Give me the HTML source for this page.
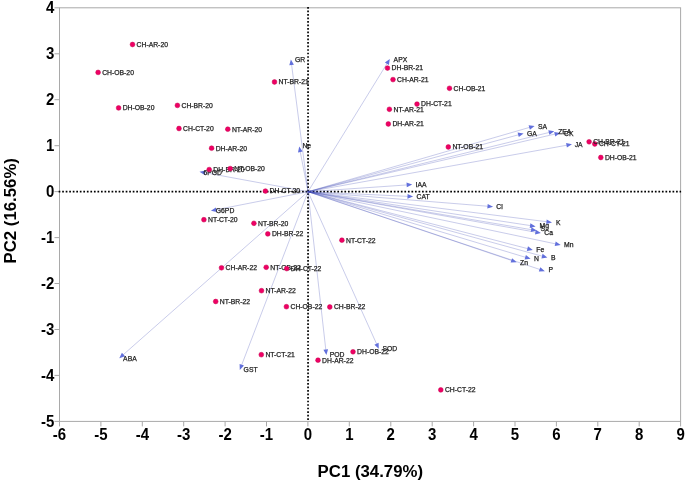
<!DOCTYPE html><html><head><meta charset="utf-8"><style>html,body{margin:0;padding:0;background:#fff;width:685px;height:482px;overflow:hidden}svg{display:block;will-change:transform;filter:blur(0.3px);font-family:"Liberation Sans",sans-serif}</style></head><body>
<svg width="685" height="482" viewBox="0 0 685 482">
<rect x="59.5" y="7.8" width="621.1" height="413.6" fill="none" stroke="#a9a9a9" stroke-width="1"/>
<path d="M59.5 421.4v5 M100.9 421.4v5 M142.3 421.4v5 M183.7 421.4v5 M225.1 421.4v5 M266.5 421.4v5 M307.9 421.4v5 M349.3 421.4v5 M390.8 421.4v5 M432.2 421.4v5 M473.6 421.4v5 M515.0 421.4v5 M556.4 421.4v5 M597.8 421.4v5 M639.2 421.4v5 M680.6 421.4v5 M59.5 421.4h-5 M59.5 375.4h-5 M59.5 329.5h-5 M59.5 283.5h-5 M59.5 237.6h-5 M59.5 191.6h-5 M59.5 145.7h-5 M59.5 99.7h-5 M59.5 53.8h-5 M59.5 7.8h-5" stroke="#a9a9a9" stroke-width="1" fill="none"/>
<g font-weight="bold" font-size="15" fill="#000">
<text transform="translate(59.50 440.2) scale(1 1.14)" text-anchor="middle">-6</text>
<text transform="translate(100.91 440.2) scale(1 1.14)" text-anchor="middle">-5</text>
<text transform="translate(142.31 440.2) scale(1 1.14)" text-anchor="middle">-4</text>
<text transform="translate(183.72 440.2) scale(1 1.14)" text-anchor="middle">-3</text>
<text transform="translate(225.13 440.2) scale(1 1.14)" text-anchor="middle">-2</text>
<text transform="translate(266.53 440.2) scale(1 1.14)" text-anchor="middle">-1</text>
<text transform="translate(307.94 440.2) scale(1 1.14)" text-anchor="middle">0</text>
<text transform="translate(349.35 440.2) scale(1 1.14)" text-anchor="middle">1</text>
<text transform="translate(390.75 440.2) scale(1 1.14)" text-anchor="middle">2</text>
<text transform="translate(432.16 440.2) scale(1 1.14)" text-anchor="middle">3</text>
<text transform="translate(473.57 440.2) scale(1 1.14)" text-anchor="middle">4</text>
<text transform="translate(514.97 440.2) scale(1 1.14)" text-anchor="middle">5</text>
<text transform="translate(556.38 440.2) scale(1 1.14)" text-anchor="middle">6</text>
<text transform="translate(597.79 440.2) scale(1 1.14)" text-anchor="middle">7</text>
<text transform="translate(639.19 440.2) scale(1 1.14)" text-anchor="middle">8</text>
<text transform="translate(680.60 440.2) scale(1 1.14)" text-anchor="middle">9</text>
<text transform="translate(54.4 426.60) scale(1 1.14)" text-anchor="end">-5</text>
<text transform="translate(54.4 380.64) scale(1 1.14)" text-anchor="end">-4</text>
<text transform="translate(54.4 334.69) scale(1 1.14)" text-anchor="end">-3</text>
<text transform="translate(54.4 288.73) scale(1 1.14)" text-anchor="end">-2</text>
<text transform="translate(54.4 242.78) scale(1 1.14)" text-anchor="end">-1</text>
<text transform="translate(54.4 196.82) scale(1 1.14)" text-anchor="end">0</text>
<text transform="translate(54.4 150.87) scale(1 1.14)" text-anchor="end">1</text>
<text transform="translate(54.4 104.91) scale(1 1.14)" text-anchor="end">2</text>
<text transform="translate(54.4 58.96) scale(1 1.14)" text-anchor="end">3</text>
<text transform="translate(54.4 13.00) scale(1 1.14)" text-anchor="end">4</text>
</g>
<text x="370.3" y="476.9" text-anchor="middle" font-weight="bold" font-size="16.8">PC1 (34.79%)</text>
<text transform="translate(15.9 210.8) rotate(-90)" text-anchor="middle" font-weight="bold" font-size="16.8">PC2 (16.56%)</text>
<path d="M58.65 191.6H681.1" stroke="#000" stroke-width="1.7" stroke-dasharray="1.7 1.828" fill="none"/>
<path d="M308.05 6.95V419.9" stroke="#000" stroke-width="1.7" stroke-dasharray="1.7 1.815" fill="none"/>
<g stroke="#3a44b4" stroke-opacity="0.45" stroke-width="0.62" fill="none">
<path d="M308.0 191.7L291.5 64.0"/>
<path d="M308.0 191.7L300.1 151.0"/>
<path d="M308.0 191.7L387.4 62.9"/>
<path d="M308.0 191.7L530.2 127.2"/>
<path d="M308.0 191.7L519.2 134.6"/>
<path d="M308.0 191.7L549.8 132.3"/>
<path d="M308.0 191.7L555.7 133.9"/>
<path d="M308.0 191.7L567.5 145.1"/>
<path d="M308.0 191.7L407.6 184.9"/>
<path d="M308.0 191.7L408.5 196.4"/>
<path d="M308.0 191.7L488.5 206.3"/>
<path d="M308.0 191.7L547.4 221.8"/>
<path d="M308.0 191.7L531.1 225.7"/>
<path d="M308.0 191.7L532.1 229.8"/>
<path d="M308.0 191.7L536.4 232.3"/>
<path d="M308.0 191.7L556.2 244.0"/>
<path d="M308.0 191.7L528.3 248.8"/>
<path d="M308.0 191.7L543.0 256.4"/>
<path d="M308.0 191.7L526.2 257.5"/>
<path d="M308.0 191.7L512.3 260.7"/>
<path d="M308.0 191.7L540.5 269.7"/>
<path d="M308.0 191.7L204.0 172.5"/>
<path d="M308.0 191.7L215.4 209.9"/>
<path d="M308.0 191.7L122.7 355.2"/>
<path d="M308.0 191.7L241.4 365.7"/>
<path d="M308.0 191.7L325.9 350.5"/>
<path d="M308.0 191.7L376.9 344.6"/>
</g>
<path d="M290.9 59.4L293.9 64.7L289.3 65.3Z M299.2 146.5L302.6 151.5L298.0 152.4Z M389.8 59.0L388.9 65.0L384.9 62.5Z M534.6 125.9L529.9 129.7L528.6 125.2Z M523.6 133.4L518.8 137.1L517.6 132.6Z M554.3 131.2L549.4 134.8L548.3 130.3Z M560.2 132.9L555.3 136.5L554.2 131.9Z M572.0 144.3L566.9 147.6L566.1 143.0Z M412.2 184.6L406.8 187.3L406.5 182.6Z M413.1 196.6L407.4 198.7L407.6 194.0Z M493.1 206.7L487.3 208.6L487.7 203.9Z M552.0 222.4L546.2 224.0L546.7 219.4Z M535.6 226.4L529.7 227.9L530.4 223.2Z M536.6 230.6L530.7 232.0L531.5 227.3Z M540.9 233.1L535.0 234.4L535.8 229.8Z M560.7 244.9L554.7 246.0L555.7 241.4Z M532.8 250.0L526.8 250.9L528.0 246.3Z M547.4 257.6L541.4 258.4L542.6 253.8Z M530.6 258.8L524.6 259.4L525.9 254.9Z M516.7 262.2L510.6 262.6L512.1 258.2Z M544.9 271.2L538.8 271.6L540.3 267.2Z M199.5 171.7L205.4 170.4L204.6 175.0Z M210.9 210.8L215.9 207.4L216.8 212.0Z M119.3 358.2L121.9 352.7L125.1 356.3Z M239.8 370.0L239.6 363.9L244.0 365.6Z M326.4 355.1L323.4 349.8L328.1 349.3Z M378.8 348.8L374.4 344.7L378.6 342.7Z" fill="#6270dc"/>
<g font-size="6.8" fill="#222" stroke="#222" stroke-width="0.25">
<text x="294.9" y="61.5">GR</text>
<text x="302.4" y="148.2">Ne</text>
<text x="393.6" y="61.7">APX</text>
<text x="538.0" y="128.8">SA</text>
<text x="526.9" y="135.8">GA</text>
<text x="558.2" y="133.5">ZEA</text>
<text x="564.0" y="135.8">CK</text>
<text x="574.7" y="147.3">JA</text>
<text x="415.6" y="186.9">IAA</text>
<text x="416.5" y="198.9">CAT</text>
<text x="496.3" y="209.1">Cl</text>
<text x="555.9" y="224.6">K</text>
<text x="539.5" y="227.5">Mg</text>
<text x="540.4" y="231.2">S</text>
<text x="544.3" y="235.3">Ca</text>
<text x="564.0" y="247.1">Mn</text>
<text x="536.3" y="252.3">Fe</text>
<text x="551.1" y="259.9">B</text>
<text x="534.1" y="261.3">N</text>
<text x="520.0" y="264.6">Zn</text>
<text x="548.6" y="272.3">P</text>
<text x="203.5" y="174.8">6PGD</text>
<text x="215.8" y="213.3">G6PD</text>
<text x="123.1" y="360.5">ABA</text>
<text x="243.6" y="372.2">GST</text>
<text x="329.8" y="357.0">POD</text>
<text x="382.4" y="351.2">SOD</text>
</g>
<circle cx="132.5" cy="44.5" r="2.4" fill="#ee0064" stroke="#c8004f" stroke-width="0.5"/><text x="136.6" y="46.8" font-size="6.8" fill="#222" stroke="#222" stroke-width="0.25">CH-AR-20</text>
<circle cx="98.1" cy="72.4" r="2.4" fill="#ee0064" stroke="#c8004f" stroke-width="0.5"/><text x="102.2" y="74.7" font-size="6.8" fill="#222" stroke="#222" stroke-width="0.25">CH-OB-20</text>
<circle cx="118.6" cy="107.9" r="2.4" fill="#ee0064" stroke="#c8004f" stroke-width="0.5"/><text x="122.7" y="110.2" font-size="6.8" fill="#222" stroke="#222" stroke-width="0.25">DH-OB-20</text>
<circle cx="177.4" cy="105.4" r="2.4" fill="#ee0064" stroke="#c8004f" stroke-width="0.5"/><text x="181.5" y="107.7" font-size="6.8" fill="#222" stroke="#222" stroke-width="0.25">CH-BR-20</text>
<circle cx="179" cy="128.5" r="2.4" fill="#ee0064" stroke="#c8004f" stroke-width="0.5"/><text x="183.1" y="130.8" font-size="6.8" fill="#222" stroke="#222" stroke-width="0.25">CH-CT-20</text>
<circle cx="227.8" cy="129.2" r="2.4" fill="#ee0064" stroke="#c8004f" stroke-width="0.5"/><text x="231.9" y="131.5" font-size="6.8" fill="#222" stroke="#222" stroke-width="0.25">NT-AR-20</text>
<circle cx="211.6" cy="148.2" r="2.4" fill="#ee0064" stroke="#c8004f" stroke-width="0.5"/><text x="215.7" y="150.5" font-size="6.8" fill="#222" stroke="#222" stroke-width="0.25">DH-AR-20</text>
<circle cx="274.5" cy="82" r="2.4" fill="#ee0064" stroke="#c8004f" stroke-width="0.5"/><text x="278.6" y="84.3" font-size="6.8" fill="#222" stroke="#222" stroke-width="0.25">NT-BR-21</text>
<circle cx="209.2" cy="169.6" r="2.4" fill="#ee0064" stroke="#c8004f" stroke-width="0.5"/><text x="213.3" y="171.9" font-size="6.8" fill="#222" stroke="#222" stroke-width="0.25">DH-BR-20</text>
<circle cx="230.2" cy="168.6" r="2.4" fill="#ee0064" stroke="#c8004f" stroke-width="0.5"/><text x="234.3" y="170.9" font-size="6.8" fill="#222" stroke="#222" stroke-width="0.25">NT-OB-20</text>
<circle cx="265.4" cy="191.1" r="2.4" fill="#ee0064" stroke="#c8004f" stroke-width="0.5"/><text x="269.5" y="193.4" font-size="6.8" fill="#222" stroke="#222" stroke-width="0.25">DH-CT-20</text>
<circle cx="203.9" cy="219.7" r="2.4" fill="#ee0064" stroke="#c8004f" stroke-width="0.5"/><text x="208.0" y="222.0" font-size="6.8" fill="#222" stroke="#222" stroke-width="0.25">NT-CT-20</text>
<circle cx="253.9" cy="223.3" r="2.4" fill="#ee0064" stroke="#c8004f" stroke-width="0.5"/><text x="258.0" y="225.6" font-size="6.8" fill="#222" stroke="#222" stroke-width="0.25">NT-BR-20</text>
<circle cx="267.8" cy="233.9" r="2.4" fill="#ee0064" stroke="#c8004f" stroke-width="0.5"/><text x="271.9" y="236.2" font-size="6.8" fill="#222" stroke="#222" stroke-width="0.25">DH-BR-22</text>
<circle cx="341.9" cy="240.2" r="2.4" fill="#ee0064" stroke="#c8004f" stroke-width="0.5"/><text x="346.0" y="242.5" font-size="6.8" fill="#222" stroke="#222" stroke-width="0.25">NT-CT-22</text>
<circle cx="221.5" cy="267.8" r="2.4" fill="#ee0064" stroke="#c8004f" stroke-width="0.5"/><text x="225.6" y="270.1" font-size="6.8" fill="#222" stroke="#222" stroke-width="0.25">CH-AR-22</text>
<circle cx="266.2" cy="267.3" r="2.4" fill="#ee0064" stroke="#c8004f" stroke-width="0.5"/><text x="270.3" y="269.6" font-size="6.8" fill="#222" stroke="#222" stroke-width="0.25">NT-OB-22</text>
<circle cx="286.7" cy="268.6" r="2.4" fill="#ee0064" stroke="#c8004f" stroke-width="0.5"/><text x="290.8" y="270.9" font-size="6.8" fill="#222" stroke="#222" stroke-width="0.25">DH-CT-22</text>
<circle cx="261.5" cy="290.7" r="2.4" fill="#ee0064" stroke="#c8004f" stroke-width="0.5"/><text x="265.6" y="293.0" font-size="6.8" fill="#222" stroke="#222" stroke-width="0.25">NT-AR-22</text>
<circle cx="215.7" cy="301.5" r="2.4" fill="#ee0064" stroke="#c8004f" stroke-width="0.5"/><text x="219.8" y="303.8" font-size="6.8" fill="#222" stroke="#222" stroke-width="0.25">NT-BR-22</text>
<circle cx="286.4" cy="306.7" r="2.4" fill="#ee0064" stroke="#c8004f" stroke-width="0.5"/><text x="290.5" y="309.0" font-size="6.8" fill="#222" stroke="#222" stroke-width="0.25">CH-OB-22</text>
<circle cx="329.8" cy="307" r="2.4" fill="#ee0064" stroke="#c8004f" stroke-width="0.5"/><text x="333.9" y="309.3" font-size="6.8" fill="#222" stroke="#222" stroke-width="0.25">CH-BR-22</text>
<circle cx="261.3" cy="354.7" r="2.4" fill="#ee0064" stroke="#c8004f" stroke-width="0.5"/><text x="265.4" y="357.0" font-size="6.8" fill="#222" stroke="#222" stroke-width="0.25">NT-CT-21</text>
<circle cx="318" cy="360.2" r="2.4" fill="#ee0064" stroke="#c8004f" stroke-width="0.5"/><text x="322.1" y="362.5" font-size="6.8" fill="#222" stroke="#222" stroke-width="0.25">DH-AR-22</text>
<circle cx="353" cy="351.8" r="2.4" fill="#ee0064" stroke="#c8004f" stroke-width="0.5"/><text x="357.1" y="354.1" font-size="6.8" fill="#222" stroke="#222" stroke-width="0.25">DH-OB-22</text>
<circle cx="440.8" cy="389.9" r="2.4" fill="#ee0064" stroke="#c8004f" stroke-width="0.5"/><text x="444.9" y="392.2" font-size="6.8" fill="#222" stroke="#222" stroke-width="0.25">CH-CT-22</text>
<circle cx="387.5" cy="68.1" r="2.4" fill="#ee0064" stroke="#c8004f" stroke-width="0.5"/><text x="391.6" y="70.4" font-size="6.8" fill="#222" stroke="#222" stroke-width="0.25">DH-BR-21</text>
<circle cx="393" cy="79.6" r="2.4" fill="#ee0064" stroke="#c8004f" stroke-width="0.5"/><text x="397.1" y="81.9" font-size="6.8" fill="#222" stroke="#222" stroke-width="0.25">CH-AR-21</text>
<circle cx="449.5" cy="88.3" r="2.4" fill="#ee0064" stroke="#c8004f" stroke-width="0.5"/><text x="453.6" y="90.6" font-size="6.8" fill="#222" stroke="#222" stroke-width="0.25">CH-OB-21</text>
<circle cx="389.4" cy="109.3" r="2.4" fill="#ee0064" stroke="#c8004f" stroke-width="0.5"/><text x="393.5" y="111.6" font-size="6.8" fill="#222" stroke="#222" stroke-width="0.25">NT-AR-21</text>
<circle cx="417" cy="104.1" r="2.4" fill="#ee0064" stroke="#c8004f" stroke-width="0.5"/><text x="421.1" y="106.4" font-size="6.8" fill="#222" stroke="#222" stroke-width="0.25">DH-CT-21</text>
<circle cx="388.3" cy="124" r="2.4" fill="#ee0064" stroke="#c8004f" stroke-width="0.5"/><text x="392.4" y="126.3" font-size="6.8" fill="#222" stroke="#222" stroke-width="0.25">DH-AR-21</text>
<circle cx="448.3" cy="147" r="2.4" fill="#ee0064" stroke="#c8004f" stroke-width="0.5"/><text x="452.4" y="149.3" font-size="6.8" fill="#222" stroke="#222" stroke-width="0.25">NT-OB-21</text>
<circle cx="594.8" cy="144.0" r="2.4" fill="#ee0064" stroke="#c8004f" stroke-width="0.5"/><text x="598.9" y="146.3" font-size="6.8" fill="#222" stroke="#222" stroke-width="0.25">CH-CT-21</text>
<circle cx="589.1" cy="141.8" r="2.4" fill="#ee0064" stroke="#c8004f" stroke-width="0.5"/><text x="593.2" y="144.1" font-size="6.8" fill="#222" stroke="#222" stroke-width="0.25">CH-BR-21</text>
<circle cx="600.8" cy="157.5" r="2.4" fill="#ee0064" stroke="#c8004f" stroke-width="0.5"/><text x="604.9" y="159.8" font-size="6.8" fill="#222" stroke="#222" stroke-width="0.25">DH-OB-21</text>
</svg></body></html>
